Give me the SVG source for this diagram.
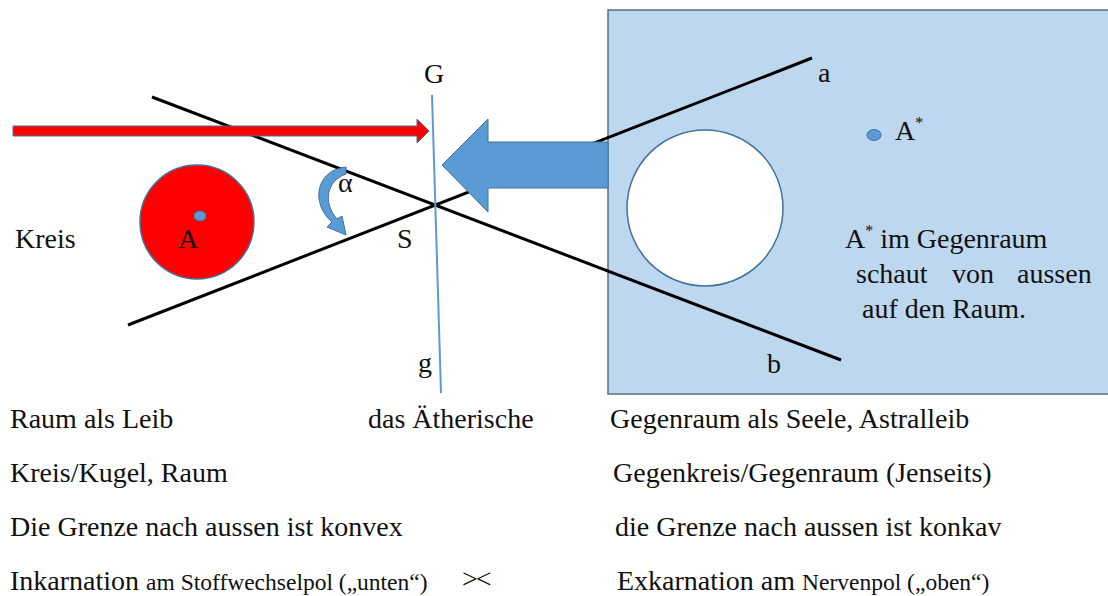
<svg xmlns="http://www.w3.org/2000/svg" width="1108" height="596" viewBox="0 0 1108 596">
<style>
text{font-family:"Liberation Serif","Times New Roman",serif;fill:#111;}
.t{font-size:28px;}
.s{font-size:23.5px;}
.ln{stroke:#000;stroke-width:3;fill:none;}
.bl{fill:#5B9BD5;stroke:#41719C;stroke-width:1;}
</style>
<rect width="1108" height="596" fill="#fff"/>
<g id="gegenraum">
<rect x="608" y="10" width="510" height="384" fill="#BDD7EE" stroke="#5a6f86" stroke-width="1.5"/>
<circle cx="705" cy="208" r="78" fill="#fff" stroke="#41719C" stroke-width="1.5"/>
</g>
<g id="connectors">
<line class="ln" x1="128" y1="325" x2="812" y2="58"/>
<line class="ln" x1="152" y1="97" x2="841" y2="360"/>
<line x1="432" y1="95" x2="441" y2="393" stroke="#5B9BD5" stroke-width="2"/>
<path id="redArrow" d="M13 126 L417 126 L417 119 L429 131 L417 143 L417 136 L13 136 Z" fill="#FF0000" stroke="#41719C" stroke-width="1"/>
<path id="blueArrow" class="bl" d="M608 142 L488 142 L488 119 L442 165 L488 212 L488 188 L608 188 Z"/>
<path id="alphaArrow" class="bl" d="M346 167 C316 170 310 203 332 222 L327 227 L346 235 L342 216 L337 219 C323 203 326 181 346 174 Z"/>
</g>
<g id="kreis">
<circle cx="197" cy="222" r="57" fill="#FF0000" stroke="#41719C" stroke-width="1.5"/>
<ellipse cx="200" cy="216" rx="6" ry="5" class="bl"/>
<text class="t" x="178" y="248" font-size="24">A</text>
</g>
<g id="astar">
<ellipse cx="874" cy="135" rx="7" ry="5.5" class="bl"/>
<text class="t" x="895" y="140">A<tspan font-size="16" dy="-12">*</tspan></text>
</g>
<g id="labels">
<text class="t" x="15" y="248">Kreis</text>
<text class="t" x="338" y="192" font-size="22">α</text>
<text class="t" x="397" y="248">S</text>
<text class="t" x="424" y="83">G</text>
<text class="t" x="418" y="372">g</text>
<text class="t" x="818" y="82">a</text>
<text class="t" x="767" y="373">b</text>
<text class="t" x="845" y="248">A<tspan font-size="16" dy="-12">*</tspan><tspan dy="12"> im Gegenraum</tspan></text>
<text class="t" x="856" y="283">schaut</text>
<text class="t" x="952" y="283">von</text>
<text class="t" x="1017" y="283">aussen</text>
<text class="t" x="862" y="318">auf den Raum.</text>
</g>
<g id="table">
<text class="t" x="10" y="428">Raum als Leib</text>
<text class="t" x="368" y="428">das Ätherische</text>
<text class="t" x="610" y="428">Gegenraum als Seele, Astralleib</text>
<text class="t" x="10" y="482">Kreis/Kugel, Raum</text>
<text class="t" x="613" y="482">Gegenkreis/Gegenraum (Jenseits)</text>
<text class="t" x="10" y="536">Die Grenze nach aussen ist konvex</text>
<text class="t" x="615" y="536">die Grenze nach aussen ist konkav</text>
<text class="t" x="10" y="590">Inkarnation <tspan class="s">am Stoffwechselpol („unten“)</tspan></text>
<text class="t" x="462" y="588" letter-spacing="-2">&gt;&lt;</text>
<text class="t" x="617" y="590">Exkarnation am <tspan class="s">Nervenpol („oben“)</tspan></text>
</g>
</svg>
